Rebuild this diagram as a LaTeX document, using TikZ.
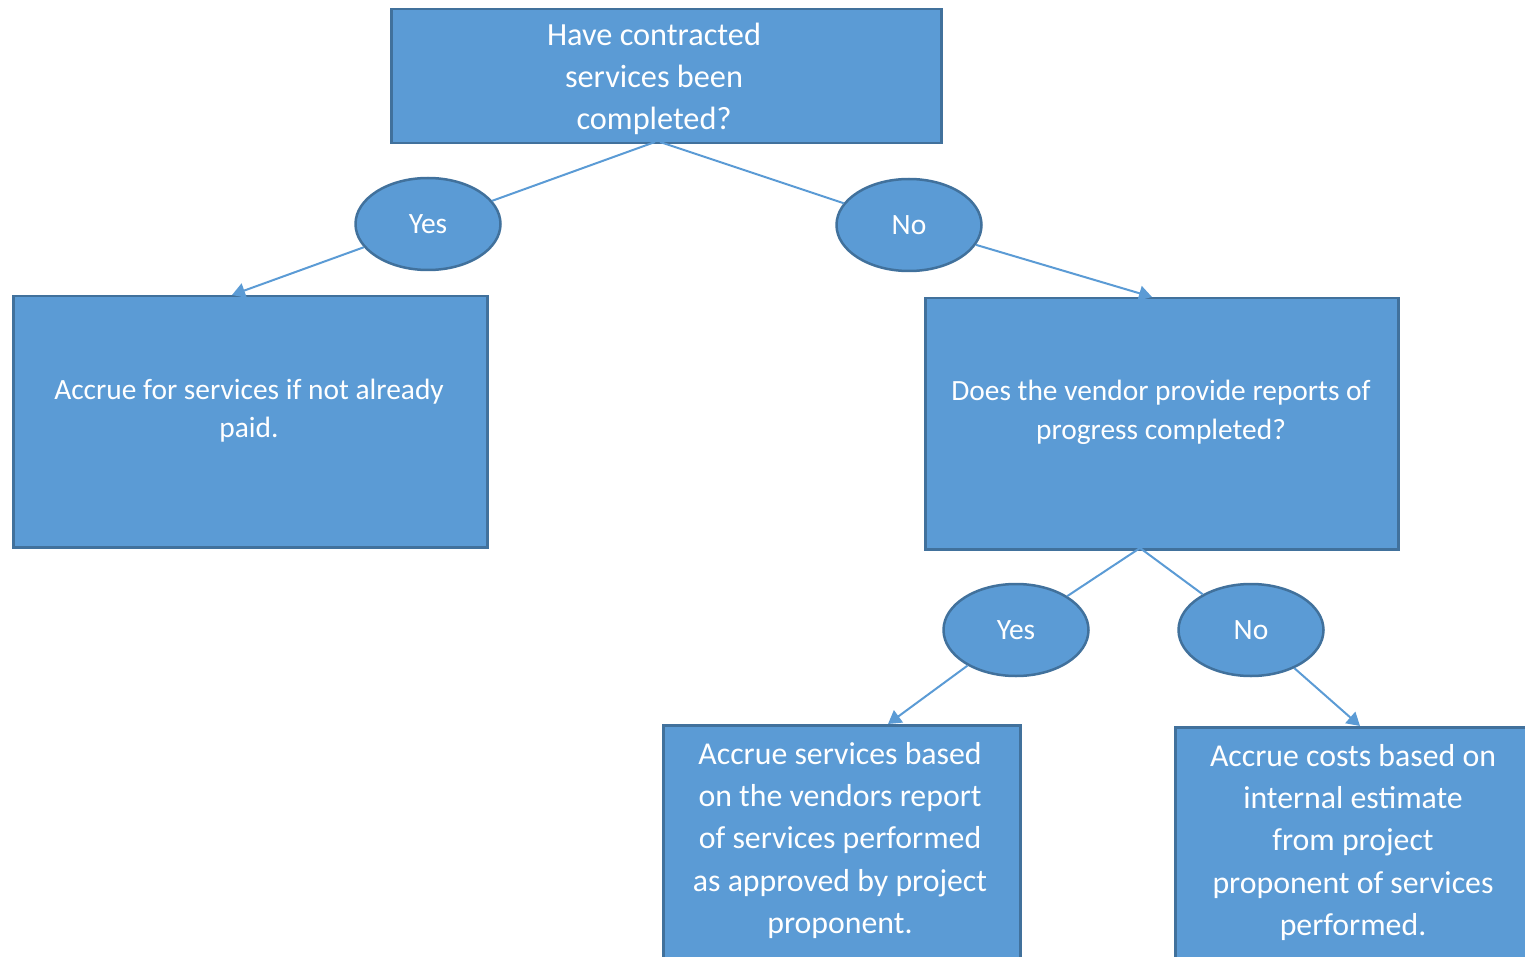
\documentclass[tikz,border=0pt]{standalone}
\usepackage{fontspec}
\setmainfont{Carlito}
\usetikzlibrary{arrows.meta,shapes.geometric}
\definecolor{boxfill}{HTML}{5B9BD5}
\definecolor{boxedge}{HTML}{41719C}
\definecolor{linkcol}{HTML}{5B9BD5}
\tikzset{
  box/.style={draw=boxedge,fill=boxfill,line width=2.5pt,rectangle,inner sep=0pt,anchor=north west},
  oval/.style={ellipse,draw=boxedge,fill=boxfill,line width=2.5pt,minimum width=145pt,minimum height=92pt,inner sep=0pt,text=white,font=\fontsize{29.5}{34}\selectfont},
  txt/.style={text=white,align=center,inner sep=0pt},
  link/.style={draw=linkcol,line width=2pt},
  arr/.style={link,-{Triangle[length=13pt,width=15pt]}},
}
\begin{document}
\begin{tikzpicture}[x=1pt,y=-1pt]
\useasboundingbox (0,0) rectangle (1525,957);
\clip (0,0) rectangle (1525,957);
% boxes
\node[box,minimum width=550pt,minimum height=134pt] (top) at (390,8) {};
\node[txt,font=\fontsize{32.3}{42}\selectfont] (toptxt) at (654,79) {Have contracted\\services been\\completed?};
\node[box,minimum width=474pt,minimum height=251pt] (left) at (12,295) {};
\node[txt,font=\fontsize{29.4}{38}\selectfont] (lefttxt) at (249,411) {Accrue for services if not already\\paid.};
\node[box,minimum width=473pt,minimum height=251pt] (right) at (924,297) {};
\node[txt,font=\fontsize{29.4}{39}\selectfont] (righttxt) at (1161,412.5) {Does the vendor provide reports of\\progress completed?};
\node[box,minimum width=357pt,minimum height=260pt] (bl) at (662,724) {};
\node[txt,font=\fontsize{31.8}{42.3}\selectfont] (bltxt) at (840,840.5) {Accrue services based\\on the vendors report\\of services performed\\as approved by project\\proponent.};
\node[box,minimum width=380pt,minimum height=260pt] (br) at (1174,726) {};
\node[txt,font=\fontsize{31.8}{42.3}\selectfont] (brtxt) at (1353,842.5) {Accrue costs based on\\internal estimate\\from project\\proponent of services\\performed.};
% ovals
\node[oval] (yes) at (428,224) {Yes};
\node[oval] (no) at (909,225) {No};
\node[oval] (yes2) at (1016,630) {Yes};
\node[oval] (no2) at (1251,630) {No};
% connector points
\coordinate (topL) at (655,142);
\coordinate (topR) at (660,142);
\coordinate (la) at (232,295);
\coordinate (ra) at (1152,297);
\coordinate (rb) at (1140,548);
\coordinate (bla) at (888,724);
\coordinate (bra) at (1360,726);
% connectors
\draw[link] (topL) -- (yes);
\draw[link] (topR) -- (no);
\draw[arr] (yes) -- (la);
\draw[arr] (no) -- (ra);
\draw[link] (rb) -- (yes2);
\draw[link] (rb) -- (no2);
\draw[arr] (yes2) -- (bla);
\draw[arr] (no2) -- (bra);
\end{tikzpicture}
\end{document}
